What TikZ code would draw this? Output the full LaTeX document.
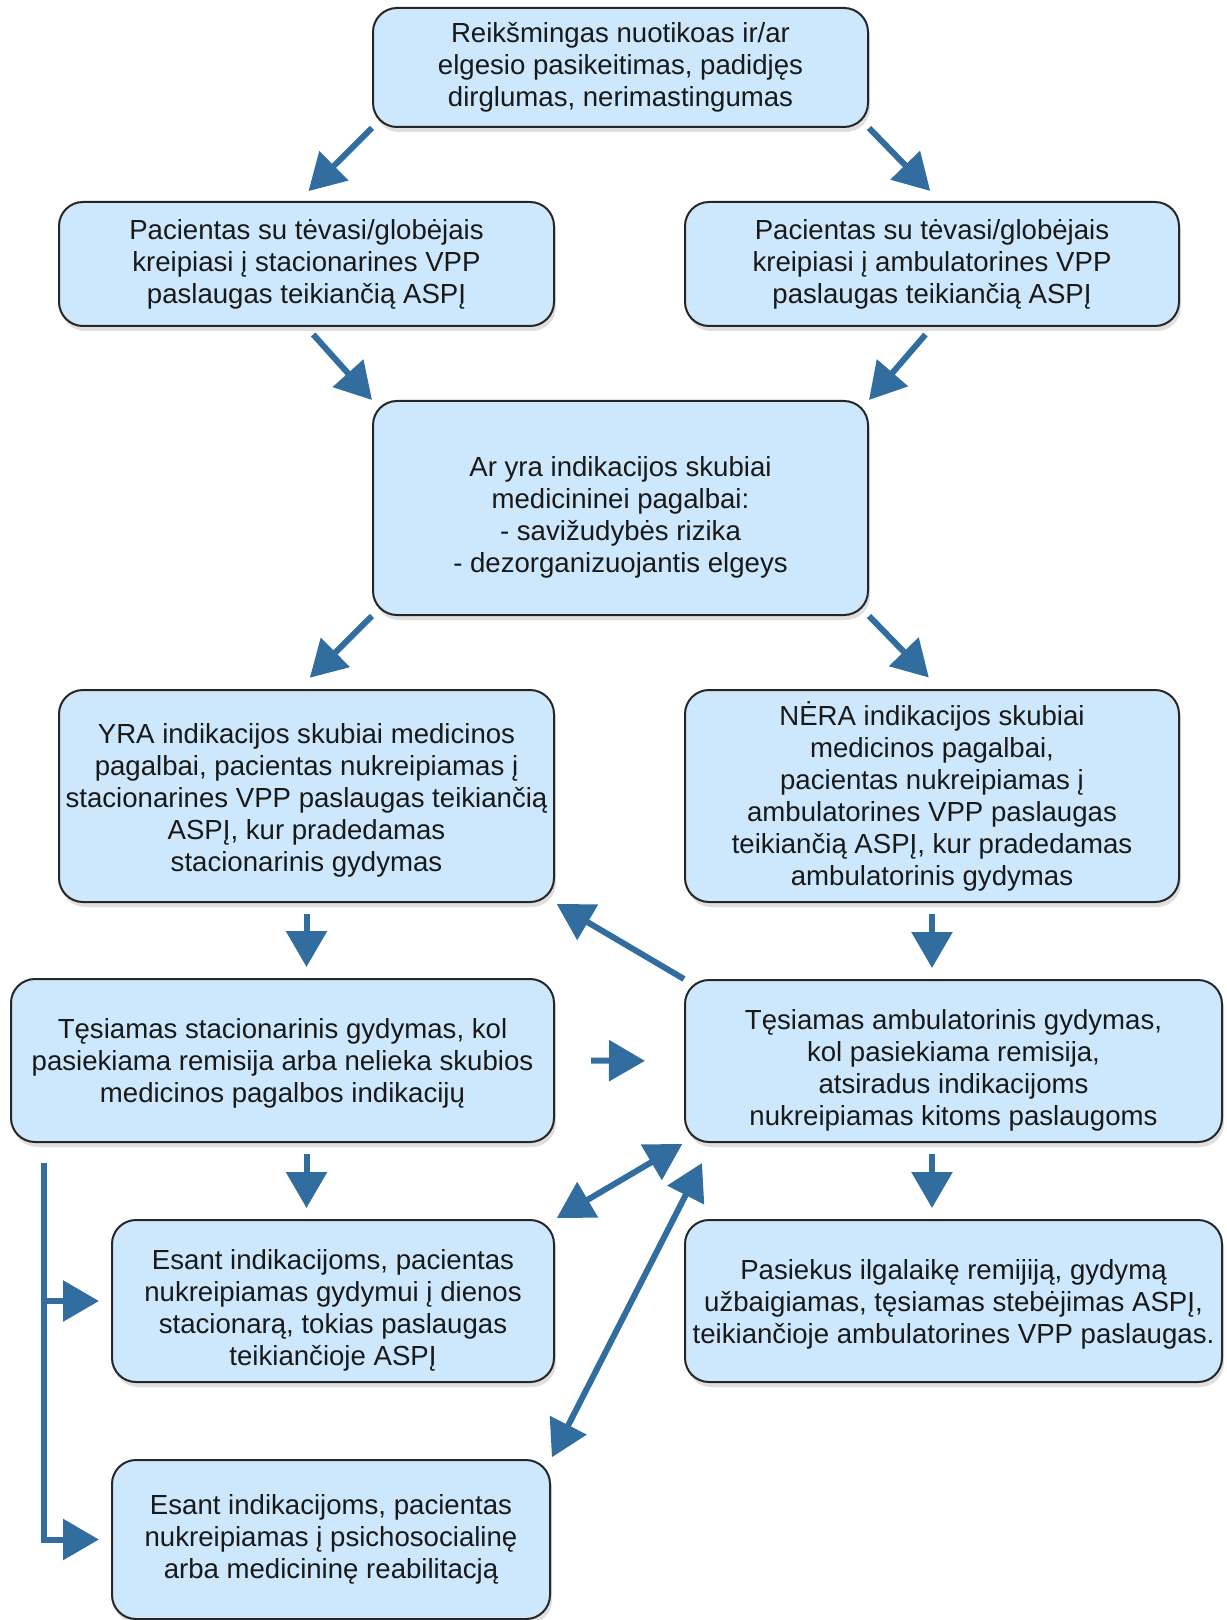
\documentclass[tikz,border=0pt]{standalone}
\usepackage{fontspec}
\setmainfont{Liberation Sans}
\usetikzlibrary{arrows.meta,shadows}
\definecolor{boxblue}{RGB}{205,232,252}
\definecolor{arrowblue}{RGB}{49,110,159}
\newcommand{\padtop}[1]{\rule{0pt}{#1}}
\begin{document}
\begin{tikzpicture}[x=0.5pt,y=-0.5pt,line cap=butt,
		box/.style={draw=black!85,line width=1pt,fill=boxblue,rounded corners=12pt,
			align=center,inner sep=0pt,text=black!90,
			font=\fontsize{13.8}{16}\selectfont,
			drop shadow={shadow xshift=1pt,shadow yshift=-2.5pt,opacity=0.25}},
		arr/.style={draw=arrowblue,line width=3pt,-{Triangle[width=20pt,length=18pt]}},
		dblarr/.style={draw=arrowblue,line width=3pt,{Triangle[width=20pt,length=18pt]}-{Triangle[width=20pt,length=18pt]}}]
		\useasboundingbox (0,0) rectangle (1226,1620);
		% boxes
		\node[box,minimum width=247.5pt,minimum height=59.5pt] (top) at (620.5,67.5)
			{Reikšmingas nuotikoas ir/ar\\elgesio pasikeitimas, padidjęs\\dirglumas, nerimastingumas};
		\node[box,minimum width=247.5pt,minimum height=62pt] (stac) at (306.5,264)
			{Pacientas su tėvasi/globėjais\\kreipiasi į stacionarines VPP\\paslaugas teikiančią ASPĮ};
		\node[box,minimum width=247pt,minimum height=62pt] (amb) at (932,264)
			{Pacientas su tėvasi/globėjais\\kreipiasi į ambulatorines VPP\\paslaugas teikiančią ASPĮ};
		\node[box,minimum width=247.5pt,minimum height=107pt] (ask) at (620.5,508)
			{\padtop{19pt}Ar yra indikacijos skubiai\\medicininei pagalbai:\\- savižudybės rizika\\- dezorganizuojantis elgeys};
		\node[box,minimum width=247.5pt,minimum height=106pt] (yra) at (306.5,796)
			{\padtop{14pt}YRA indikacijos skubiai medicinos\\pagalbai, pacientas nukreipiamas į\\stacionarines VPP paslaugas teikiančią\\ASPĮ, kur pradedamas\\stacionarinis gydymas};
		\node[box,minimum width=247pt,minimum height=106pt] (nera) at (932,796)
			{NĖRA indikacijos skubiai\\medicinos pagalbai,\\pacientas nukreipiamas į\\ambulatorines VPP paslaugas\\teikiančią ASPĮ, kur pradedamas\\ambulatorinis gydymas};
		\node[box,minimum width=271.5pt,minimum height=81.5pt] (tstac) at (282.5,1060.5)
			{\padtop{13pt}Tęsiamas stacionarinis gydymas, kol\\pasiekiama remisija arba nelieka skubios\\medicinos pagalbos indikacijų};
		\node[box,minimum width=268.5pt,minimum height=81pt] (tamb) at (953.5,1061)
			{\padtop{19pt}Tęsiamas ambulatorinis gydymas,\\kol pasiekiama remisija,\\atsiradus indikacijoms\\nukreipiamas kitoms paslaugoms};
		\node[box,minimum width=221pt,minimum height=81pt] (dien) at (333,1301)
			{\padtop{19pt}Esant indikacijoms, pacientas\\nukreipiamas gydymui į dienos\\stacionarą, tokias paslaugas\\teikiančioje ASPĮ};
		\node[box,minimum width=268.5pt,minimum height=81pt] (pasiek) at (953.5,1301)
			{\padtop{13pt}Pasiekus ilgalaikę remijiją, gydymą\\užbaigiamas, tęsiamas stebėjimas ASPĮ,\\teikiančioje ambulatorines VPP paslaugas.};
		\node[box,minimum width=219pt,minimum height=79.5pt] (psich) at (331,1539.5)
			{Esant indikacijoms, pacientas\\nukreipiamas į psichosocialinę\\arba medicininę reabilitacją};
		% arrows
		\draw[arr,shorten >=7pt] (top.south west) -- ([xshift=-4pt]stac.north);
		\draw[arr,shorten >=7pt] (top.south east) -- ([xshift=4pt]amb.north);
		\draw[arr,shorten <=5pt] (stac.south) -- (ask.north west);
		\draw[arr,shorten <=5pt] (amb.south) -- (ask.north east);
		\draw[arr,shorten >=8pt] (ask.south west) -- ([xshift=-4pt]yra.north);
		\draw[arr,shorten >=8pt] (ask.south east) -- ([xshift=4pt]nera.north);
		\foreach \u/\v/\c in {yra/tstac/yra,nera/tamb/nera,tstac/dien/yra,tamb/pasiek/nera}
			{\draw[arr,shorten <=5.5pt,shorten >=5.5pt] (\u.south -| \c.south) -- (\v.north -| \c.south);}
		\draw[arr,shorten >=1pt] (tamb.north west) -- (yra.south east);
		\draw[arr,shorten <=18pt,shorten >=19.5pt] (tstac.east) -- (tamb.west);
		\draw[dblarr,shorten <=1pt,shorten >=1pt] (dien.north east) -- (tamb.south west);
		\draw[dblarr,shorten <=1pt] (psich.north east) -- ([xshift=9pt,yshift=-10pt]tamb.south west);
		% bracket on the left
		\coordinate (brk) at (44,1163);
		\draw[arr,shorten >=6pt] (brk) |- (psich.west);
		\draw[arr,shorten >=6pt] (brk |- dien.west) -- (dien.west);
\end{tikzpicture}
\end{document}
